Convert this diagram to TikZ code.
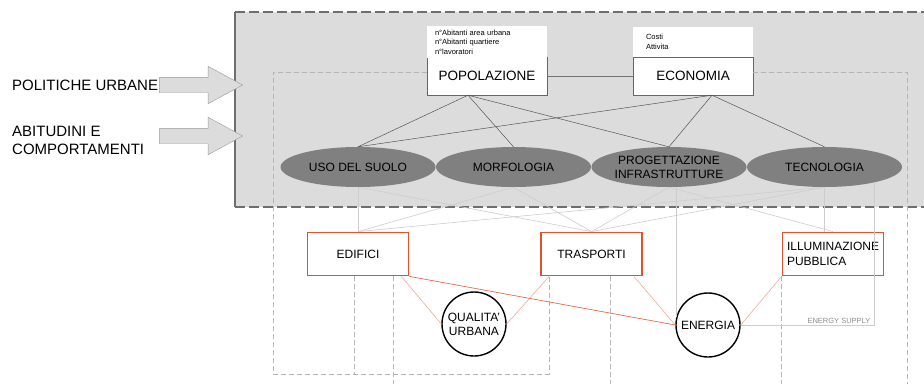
\documentclass[tikz,border=0pt]{standalone}
\usepackage{fontspec}
\setmainfont{Liberation Sans}
\usetikzlibrary{positioning,shapes.geometric,shapes.arrows}

\definecolor{boxgray}{HTML}{DCDCDC}
\definecolor{framegray}{HTML}{6E6E6E}
\definecolor{guidegray}{HTML}{B4B4B4}
\definecolor{linkdark}{HTML}{555555}
\definecolor{linklight}{HTML}{CDCDCD}
\definecolor{ellgray}{HTML}{808080}
\definecolor{accent}{HTML}{E2522A}

\begin{document}
\begin{tikzpicture}[x=1pt,y=-1pt,node distance=155.5pt,on grid,
  side/.style={inner sep=0pt,align=left,font=\fontsize{15}{18}\selectfont},
  inarrow/.style={single arrow,draw=black!40,fill=boxgray,single arrow head extend=11pt,single arrow tip angle=57,single arrow head indent=0pt,minimum height=83pt,inner xsep=0pt,inner ysep=7.5pt,anchor=tip},
  headbox/.style={draw=black!60,fill=white,minimum width=120pt,minimum height=38pt,inner sep=0pt,font=\fontsize{13.5}{15}\selectfont},
  info/.style={fill=white,minimum height=30pt,inner xsep=8pt,text width=104pt,align=left,font=\fontsize{7.5}{9.5}\selectfont},
  factor/.style={ellipse,fill=ellgray,minimum width=155pt,minimum height=40pt,inner sep=0pt,align=center,font=\fontsize{12}{14}\selectfont},
  sector/.style={draw=accent,line width=1.8pt,fill=white,minimum width=101pt,minimum height=43pt,inner sep=0pt,font=\fontsize{12}{15}\selectfont},
  goal/.style={circle,draw=black,line width=1.4pt,fill=white,minimum size=64pt,inner sep=0pt,align=center,font=\fontsize{12}{14}\selectfont},
  supplytext/.style={inner sep=0pt,text=black!45,font=\fontsize{7.5}{9}\selectfont},
  guide/.style={draw=guidegray,line width=0.8pt,dash pattern=on 5pt off 3pt},
  link/.style={draw=linkdark,line width=0.5pt},
  faint/.style={draw=linklight,line width=0.6pt},
  feed/.style={draw=accent!50,line width=0.6pt}
]
\useasboundingbox (0,0) rectangle (924,383);
\clip (0,0) rectangle (924,383);

% area of the urban system
\fill[boxgray] (235,12) rectangle (930,207);
\draw[framegray,line width=2.5pt] (235,12) -- (235,207);
\draw[framegray,line width=2.5pt,dash pattern=on 10pt off 4pt] (235,12) -- (930,12) (235,207) -- (930,207);

% external drivers
\node[side,anchor=west] (pol) at (12,85) {POLITICHE URBANE};
\node[side,anchor=west] (abi) at (12,140) {ABITUDINI E\\COMPORTAMENTI};
\node[inarrow] (polarrow) at (243,85) {};
\node[inarrow] (abiarrow) at (243,136) {};

\node[headbox] (pop) at (487,76) {POPOLAZIONE};
\node[headbox] (eco) [right=206pt of pop] {ECONOMIA};
\node[info] (popinfo) [above=34pt of pop] {n°Abitanti area urbana\\n°Abitanti quartiere\\n°lavoratori};
\node[info,inner xsep=13pt,text width=94pt] (ecoinfo) [above=34pt of eco] {Costi\\Attivita};

\node[factor] (uso) at (358,167) {USO DEL SUOLO};
\node[factor] (morf) [right=of uso] {MORFOLOGIA};
\node[factor] (prog) [right=of morf] {PROGETTAZIONE\\INFRASTRUTTURE};
\node[factor] (tec) [right=of prog] {TECNOLOGIA};

\node[sector] (edi) [below=87pt of uso] {EDIFICI};
\node[sector] (tra) [right=233.5pt of edi] {TRASPORTI};
\node[sector,align=left] (ill) [right=241.5pt of tra] {ILLUMINAZIONE\\PUBBLICA};
\node[goal] (qual) [below right=70pt and 116pt of edi] {QUALITA'\\URBANA};
\node[goal] (ene) [below right=71pt and 116.5pt of tra] {ENERGIA};

% dashed guides
\draw[guide] ([yshift=4pt]pop.west) -| (273,374) -| ([xshift=9pt]tra.south west);
\draw[guide] ([yshift=4pt]eco.east) -| (907,390);
\draw[guide] ([xshift=-4pt]edi.south) -- ++(0,98);
\draw[guide] ([xshift=-16pt]edi.south east) -- ++(0,110);
\draw[guide] ([xshift=-33pt]tra.south east) -- ++(0,110);
\draw[guide] (ill.south west) -- ++(0,110);

% links
\coordinate (popfoot) at ([xshift=-19pt]pop.south);
\coordinate (ecofoot) at ([xshift=19pt]eco.south);
\draw[draw=black!55,line width=0.9pt] (pop.east) -- (eco.west);
\path[link]
  (popfoot) edge (uso.north) edge (morf.north) edge (prog.north)
  (ecofoot) edge (uso.north) edge (prog.north) edge (tec.north);
\path[faint]
  (uso.south) edge (edi.north) edge (tra.north)
  (morf.south) edge (edi.north) edge (tra.north)
  (prog.south) edge (tra.north) edge (ill.north)
  (tec.south) edge (edi.north) edge (tra.north) edge (tec.south |- ill.north);
\draw[faint] (ene.165 |- prog.south) -- (ene.165);
\coordinate (tecfoot) at ([xshift=50pt,yshift=5pt]tec.south);
\coordinate (supply) at (tecfoot |- ene.east);
\draw[faint] (ene.east) -- (supply) -- (tecfoot);
\node[supplytext,anchor=south east] (supplylabel) at ([xshift=-4pt,yshift=1pt]supply) {ENERGY SUPPLY};

% effects
\path[feed]
  ([xshift=-8pt]edi.south east) edge (qual.west)
  ([xshift=9pt]tra.south west) edge (qual.east)
  ([xshift=-9pt]tra.south east) edge (ene.west)
  (ill.south west) edge (ene.east);
\draw[draw=accent!85,line width=0.7pt] (edi.south east) -- (ene.west);
\end{tikzpicture}
\end{document}
